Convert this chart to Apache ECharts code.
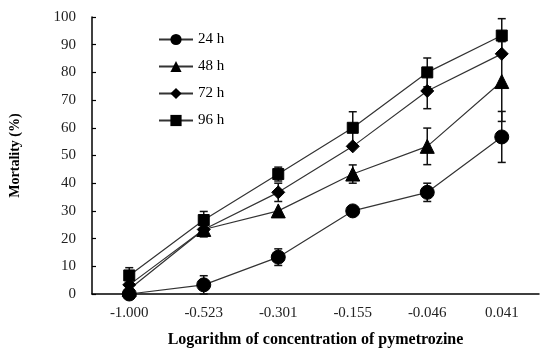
<!DOCTYPE html>
<html>
<head>
<meta charset="utf-8">
<script src="https://cdn.jsdelivr.net/npm/echarts@6/dist/echarts.min.js"></script>
<style>html,body{margin:0;padding:0;background:#fff;}#c{width:550px;height:357px;}</style>
</head>
<body>
<div id="c"></div>
<script>
var categories = ['-1.000', '-0.523', '-0.301', '-0.155', '-0.046', '0.041'];
var seriesNames = ['24 h', '48 h', '72 h', '96 h'];
var m24 = [0, 3.3, 13.3, 30, 36.7, 56.7];
var m48 = [1.7, 23.3, 30, 43.3, 53.3, 76.7];
var m72 = [3.3, 23.3, 36.7, 53.3, 73.3, 86.7];
var m96 = [6.7, 26.7, 43.3, 60, 80, 93.3];
var e24 = [0, 3.3, 3.0, 0, 3.3, 9.2];
var e48 = [0, 2.6, 0, 3.3, 6.6, 14.4];
var e72 = [0, 2.6, 3.3, 0, 6.4, 0];
var e96 = [2.8, 3.1, 2.5, 5.8, 5.2, 6.1];
var yTicks = [0, 10, 20, 30, 40, 50, 60, 70, 80, 90, 100];

var means = [m24, m48, m72, m96];
var errs = [e24, e48, e72, e96];
var symbols = ['circle', 'triangle', 'diamond', 'rect'];
var sizes = [14, 14, 13, 11];
var FONT = 'Liberation Serif';

function errData(m, e) {
  var out = [];
  for (var i = 0; i < m.length; i++) {
    if (e[i] > 0) out.push([i, m[i] - e[i], m[i] + e[i]]);
  }
  return out;
}
function renderErr(params, api) {
  var x = api.value(0);
  var lo = api.coord([x, api.value(1)]);
  var hi = api.coord([x, api.value(2)]);
  var w = 4;
  var st = { stroke: '#111', lineWidth: 1.5 };
  return {
    type: 'group',
    children: [
      { type: 'line', shape: { x1: lo[0], y1: lo[1], x2: hi[0], y2: hi[1] }, style: st },
      { type: 'line', shape: { x1: lo[0] - w, y1: lo[1], x2: lo[0] + w, y2: lo[1] }, style: st },
      { type: 'line', shape: { x1: hi[0] - w, y1: hi[1], x2: hi[0] + w, y2: hi[1] }, style: st }
    ]
  };
}

var series = [];
for (var k = 0; k < 4; k++) {
  series.push({
    type: 'custom',
    renderItem: renderErr,
    data: errData(means[k], errs[k]),
    z: 1,
    silent: true
  });
}
for (var k = 0; k < 4; k++) {
  series.push({
    name: seriesNames[k],
    type: 'line',
    data: means[k],
    symbol: symbols[k],
    symbolSize: sizes[k],
    showAllSymbol: true,
    lineStyle: { color: '#333', width: 1.2 },
    itemStyle: { color: '#000', borderColor: '#000' },
    z: 3
  });
}

var chart = echarts.init(document.getElementById('c'), null, { renderer: 'canvas' });
chart.setOption({
  animation: false,
  backgroundColor: '#fff',
  grid: { left: 88, right: 11, top: 17, bottom: 63, containLabel: false },
  legend: {
    data: seriesNames,
    orient: 'vertical',
    left: 153,
    top: 27,
    itemWidth: 34,
    itemHeight: 14,
    itemGap: 12,
    textStyle: { fontFamily: FONT, fontSize: 15, color: '#000' }
  },
  xAxis: {
    type: 'category',
    data: categories,
    boundaryGap: true,
    name: 'Logarithm of concentration of pymetrozine',
    nameLocation: 'middle',
    nameGap: 38,
    nameTextStyle: { fontFamily: FONT, fontSize: 16, fontWeight: 'bold', color: '#000' },
    axisLine: { lineStyle: { color: '#000', width: 1.5 } },
    axisTick: { inside: true, length: 4, lineStyle: { color: '#000', width: 1.2 } },
    axisLabel: { fontFamily: FONT, fontSize: 15, color: '#222', margin: 12 },
    splitLine: { show: false }
  },
  yAxis: {
    type: 'value',
    min: 0,
    max: 100,
    interval: 10,
    name: 'Mortality (%)',
    nameLocation: 'middle',
    nameGap: 70,
    nameRotate: 90,
    nameTextStyle: { fontFamily: FONT, fontSize: 14, fontWeight: 'bold', color: '#000' },
    axisLine: { show: true, lineStyle: { color: '#000', width: 1.5 } },
    axisTick: { show: true, inside: true, length: 4, lineStyle: { color: '#000', width: 1.2 } },
    axisLabel: { fontFamily: FONT, fontSize: 15, color: '#222', margin: 16,
      formatter: function (v) { return yTicks.indexOf(v) >= 0 ? String(v) : ''; } },
    splitLine: { show: false }
  },
  series: series
});
</script>
</body>
</html>
